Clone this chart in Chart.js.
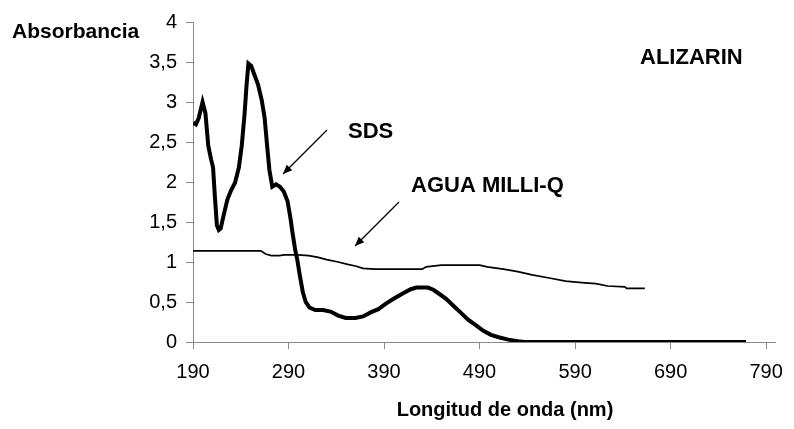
<!DOCTYPE html>
<html>
<head>
<meta charset="utf-8">
<script src="https://cdn.jsdelivr.net/npm/chart.js@4"></script>
<style>
  body { margin: 0; background: #fff; }
  #wrap { width: 794px; height: 429px; position: relative; }
</style>
</head>
<body>
<div id="wrap"><canvas id="chart"></canvas></div>
<script>
// SDS spectrum (thick line)
const sdsWavelength = [190, 193, 196, 200, 203, 206, 209, 211, 213, 215, 217, 219, 222, 226, 230, 234, 238, 241, 244, 246,
  248, 251, 254, 258, 262, 265, 268, 270, 273, 277, 281, 285, 289, 292, 294, 297, 299, 302, 305, 308,
  312, 318, 326, 334, 342, 350, 360, 368, 376, 384, 392, 400, 410, 418, 424, 436, 442, 448, 455, 462,
  470, 478, 486, 494, 502, 510, 520, 530, 537, 769];
const sdsAbs = [2.74, 2.72, 2.80, 3.00, 2.86, 2.45, 2.28, 2.18, 1.80, 1.46, 1.40, 1.42, 1.58, 1.78, 1.90, 1.99, 2.18, 2.45, 2.85, 3.20,
  3.48, 3.45, 3.35, 3.22, 3.02, 2.80, 2.40, 2.15, 1.94, 1.97, 1.94, 1.88, 1.76, 1.55, 1.38, 1.15, 1.04, 0.82, 0.62, 0.50,
  0.43, 0.40, 0.40, 0.38, 0.33, 0.30, 0.30, 0.32, 0.37, 0.41, 0.48, 0.54, 0.61, 0.66, 0.68, 0.68, 0.65, 0.60, 0.54, 0.46,
  0.37, 0.28, 0.21, 0.14, 0.09, 0.06, 0.03, 0.01, 0.0, 0.0];

// Agua Milli-Q spectrum (thin line)
const aguaWavelength = [190, 261, 266, 272, 280, 286, 300, 311, 320, 330, 342, 352, 360, 368, 380, 430, 434, 450, 490, 498,
  515, 530, 545, 563, 580, 600, 612, 624, 642, 644, 663];
const aguaAbs = [1.14, 1.14, 1.10, 1.08, 1.08, 1.09, 1.09, 1.08, 1.06, 1.03, 1.00, 0.97, 0.95, 0.92, 0.91, 0.91, 0.94, 0.96, 0.96, 0.94,
  0.91, 0.88, 0.84, 0.80, 0.76, 0.74, 0.73, 0.70, 0.69, 0.67, 0.67];

const xTicks = [190, 290, 390, 490, 590, 690, 790];
const yTicks = [0, 0.5, 1, 1.5, 2, 2.5, 3, 3.5, 4];

const toPoints = (xs, ys) => xs.map((x, i) => ({ x: x, y: ys[i] }));

function arrow(ctx, x1, y1, x2, y2) {
  const a = Math.atan2(y2 - y1, x2 - x1);
  const h = 10;
  ctx.beginPath();
  ctx.moveTo(x1, y1);
  ctx.lineTo(x2, y2);
  ctx.stroke();
  ctx.beginPath();
  ctx.moveTo(x2, y2);
  ctx.lineTo(x2 - h * Math.cos(a - 0.4), y2 - h * Math.sin(a - 0.4));
  ctx.lineTo(x2 - h * Math.cos(a + 0.4), y2 - h * Math.sin(a + 0.4));
  ctx.closePath();
  ctx.fill();
}

const labels = {
  id: 'labels',
  afterDraw(chart) {
    const ctx = chart.ctx;
    ctx.save();
    ctx.fillStyle = '#000';
    ctx.strokeStyle = '#000';
    ctx.lineWidth = 1.2;
    ctx.textBaseline = 'middle';
    ctx.textAlign = 'left';
    ctx.font = 'bold 21px "Liberation Sans", Arial, sans-serif';
    ctx.fillText('Absorbancia', 12, 32);
    ctx.font = 'bold 22px "Liberation Sans", Arial, sans-serif';
    ctx.fillText('SDS', 348, 132);
    ctx.fillText('AGUA MILLI-Q', 411, 186);
    ctx.fillText('ALIZARIN', 640, 58);
    ctx.textAlign = 'center';
    ctx.font = 'bold 20px "Liberation Sans", Arial, sans-serif';
    ctx.fillText('Longitud de onda (nm)', 505, 410);
    arrow(ctx, 327, 130, 283, 174);
    arrow(ctx, 399, 202, 355, 246);
    ctx.restore();
  }
};

new Chart(document.getElementById('chart'), {
  type: 'line',
  data: {
    datasets: [{
      label: 'SDS',
      data: toPoints(sdsWavelength, sdsAbs),
      borderColor: '#000',
      borderWidth: 4,
      pointRadius: 0,
      tension: 0
    }, {
      label: 'AGUA MILLI-Q',
      data: toPoints(aguaWavelength, aguaAbs),
      borderColor: '#000',
      borderWidth: 1.7,
      pointRadius: 0,
      tension: 0
    }]
  },
  options: {
    responsive: true,
    maintainAspectRatio: false,
    animation: false,
    layout: { padding: { top: 22, right: 12, left: 0, bottom: 0 } },
    plugins: {
      legend: { display: false },
      tooltip: { enabled: false }
    },
    scales: {
      x: {
        type: 'linear',
        min: 190,
        max: 800,
        afterBuildTicks: (scale) => { scale.ticks = xTicks.map(v => ({ value: v })); },
        afterFit: (scale) => { scale.height = 87; },
        grid: { drawOnChartArea: false, drawTicks: true, tickLength: 7, color: '#888' },
        border: { display: true, color: '#888', width: 1 },
        ticks: {
          color: '#000',
          padding: 11,
          maxRotation: 0,
          font: { family: '"Liberation Sans", Arial, sans-serif', size: 20 }
        }
      },
      y: {
        min: 0,
        max: 4,
        afterBuildTicks: (scale) => { scale.ticks = yTicks.map(v => ({ value: v })); },
        afterFit: (scale) => { scale.width = 193; },
        grid: { drawOnChartArea: false, drawTicks: true, tickLength: 7, color: '#888' },
        border: { display: true, color: '#888', width: 1 },
        ticks: {
          color: '#000',
          padding: 9,
          font: { family: '"Liberation Sans", Arial, sans-serif', size: 20 },
          callback: (v) => String(v).replace('.', ',')
        }
      }
    }
  },
  plugins: [labels]
});
</script>
</body>
</html>
